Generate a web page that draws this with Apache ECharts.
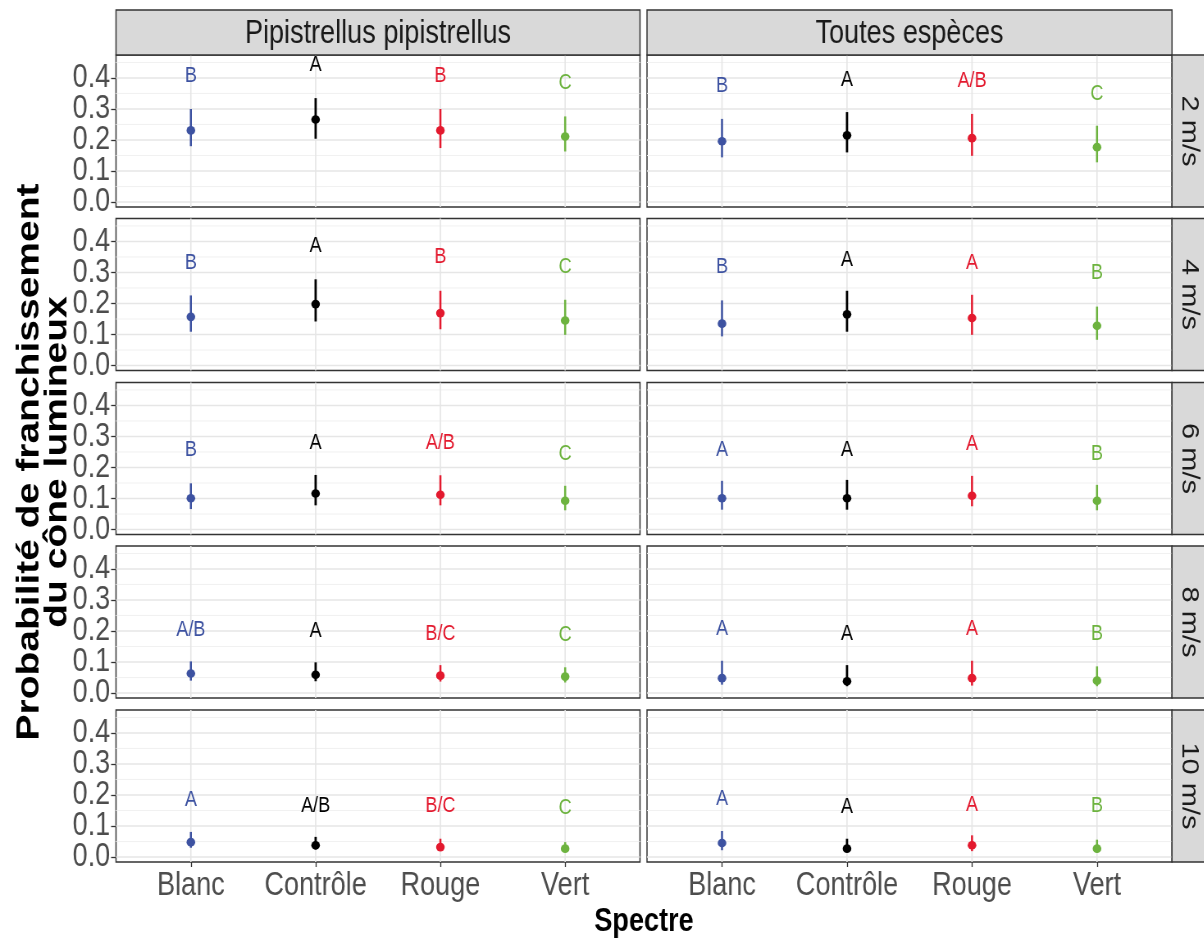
<!DOCTYPE html>
<html>
<head>
<meta charset="utf-8">
<script src="https://cdn.jsdelivr.net/npm/echarts@6/dist/echarts.min.js"></script>
<style>
html,body{margin:0;padding:0;background:#fff;overflow:hidden;}
#wrap{width:1204px;height:940px;overflow:hidden;position:relative;}
#chart{width:1468px;height:940px;transform:scaleX(0.82);transform-origin:0 0;position:absolute;left:0;top:0;}
</style>
</head>
<body>
<div id="wrap"><div id="chart"></div></div>
<script>
// ---------- data ----------
const categories = ['Blanc', 'Contrôle', 'Rouge', 'Vert'];
const speeds = ['2 m/s', '4 m/s', '6 m/s', '8 m/s', '10 m/s'];
const groups = ['Pipistrellus pipistrellus', 'Toutes espèces'];
const yTicksEven = [0, 0.2, 0.4];
const yTicksOdd = [0.1, 0.3];
const yMajorGrid = [0, 0.1, 0.2, 0.3, 0.4];
const yMinorGrid = [0.05, 0.15, 0.25, 0.35, 0.45];

// Pipistrellus pipistrellus (rows = speeds, cols = categories)
const pipiEstimate = [
  [0.231, 0.266, 0.231, 0.211],
  [0.157, 0.198, 0.169, 0.145],
  [0.101, 0.116, 0.112, 0.093],
  [0.063, 0.059, 0.056, 0.053],
  [0.048, 0.038, 0.032, 0.027]
];
const pipiLower = [
  [0.180, 0.204, 0.174, 0.163],
  [0.109, 0.142, 0.117, 0.099],
  [0.066, 0.078, 0.078, 0.062],
  [0.040, 0.038, 0.037, 0.034],
  [0.030, 0.024, 0.022, 0.016]
];
const pipiUpper = [
  [0.300, 0.335, 0.300, 0.276],
  [0.226, 0.278, 0.241, 0.212],
  [0.149, 0.176, 0.175, 0.141],
  [0.102, 0.099, 0.090, 0.083],
  [0.081, 0.065, 0.059, 0.048]
];
const pipiLetters = [
  ['B', 'A', 'B', 'C'],
  ['B', 'A', 'B', 'C'],
  ['B', 'A', 'A/B', 'C'],
  ['A/B', 'A', 'B/C', 'C'],
  ['A', 'A/B', 'B/C', 'C']
];
const pipiLetterY = [
  [0.405, 0.443, 0.405, 0.384],
  [0.330, 0.384, 0.349, 0.319],
  [0.256, 0.279, 0.279, 0.245],
  [0.203, 0.201, 0.192, 0.188],
  [0.183, 0.165, 0.165, 0.159]
];

// Toutes espèces
const toutesEstimate = [
  [0.196, 0.215, 0.206, 0.177],
  [0.135, 0.165, 0.153, 0.128],
  [0.101, 0.101, 0.109, 0.093],
  [0.048, 0.038, 0.048, 0.040],
  [0.045, 0.027, 0.038, 0.027]
];
const toutesLower = [
  [0.144, 0.160, 0.149, 0.128],
  [0.094, 0.109, 0.099, 0.083],
  [0.064, 0.064, 0.075, 0.062],
  [0.027, 0.022, 0.024, 0.022],
  [0.022, 0.016, 0.019, 0.014]
];
const toutesUpper = [
  [0.268, 0.290, 0.284, 0.246],
  [0.210, 0.241, 0.228, 0.190],
  [0.157, 0.160, 0.173, 0.144],
  [0.104, 0.090, 0.104, 0.086],
  [0.084, 0.059, 0.070, 0.056]
];
const toutesLetters = [
  ['B', 'A', 'A/B', 'C'],
  ['B', 'A', 'A', 'B'],
  ['A', 'A', 'A', 'B'],
  ['A', 'A', 'A', 'B'],
  ['A', 'A', 'A', 'B']
];
const toutesLetterY = [
  [0.373, 0.395, 0.389, 0.349],
  [0.317, 0.341, 0.332, 0.298],
  [0.256, 0.258, 0.275, 0.245],
  [0.206, 0.192, 0.206, 0.190],
  [0.188, 0.161, 0.169, 0.166]
];

// ---------- styling / layout (chart drawn 1/0.82 wide, then squeezed horizontally) ----------
const SX = 0.82;
const colors = ['#3D52A1', '#000000', '#E3192E', '#6DB33F'];
const SANS = "'Liberation Sans', Arial, sans-serif";
const colLeft = [116 / SX, 647 / SX];
const colWidth = [524 / SX, 525 / SX];
const rowTop = [55, 218.5, 382.5, 546, 710];
const rowH = 152;
const Y_MIN = -0.016, Y_MAX = 0.474, X_MIN = -0.6, X_MAX = 3.6;

const panels = [
  { est: pipiEstimate, lo: pipiLower, up: pipiUpper, let: pipiLetters, ly: pipiLetterY },
  { est: toutesEstimate, lo: toutesLower, up: toutesUpper, let: toutesLetters, ly: toutesLetterY }
];

const option = {
  animation: false,
  backgroundColor: '#ffffff',
  grid: [], xAxis: [], yAxis: [], series: [], graphic: []
};

function makeYAxis(gridIndex, show, values) {
  return {
    gridIndex: gridIndex, type: 'value', min: Y_MIN, max: Y_MAX, position: 'left',
    axisLine: { show: false, onZero: false }, splitLine: { show: false },
    axisTick: { show: show, customValues: values, length: 6, lineStyle: { color: '#333333', width: 1.3 } },
    axisLabel: {
      show: show, customValues: values, hideOverlap: false,
      formatter: v => v.toFixed(1),
      fontFamily: SANS, fontSize: 33, color: '#4D4D4D', margin: 7
    }
  };
}

for (let r = 0; r < speeds.length; r++) {
  for (let c = 0; c < groups.length; c++) {
    const idx = option.grid.length;
    const P = panels[c];
    const bottomRow = r === speeds.length - 1;
    option.grid.push({
      left: colLeft[c], top: rowTop[r], width: colWidth[c], height: rowH,
      show: true, backgroundColor: '#ffffff', borderColor: '#333333', borderWidth: 1.5
    });
    option.xAxis.push({
      gridIndex: idx, type: 'value', min: X_MIN, max: X_MAX, position: 'bottom',
      axisLine: { show: false, onZero: false }, splitLine: { show: false },
      axisTick: { show: bottomRow, customValues: [0, 1, 2, 3], length: 5, lineStyle: { color: '#333333', width: 1.3 } },
      axisLabel: {
        show: bottomRow, customValues: [0, 1, 2, 3], hideOverlap: false,
        formatter: v => categories[Math.round(v)] || '',
        fontFamily: SANS, fontSize: 33, color: '#4D4D4D', margin: 7
      }
    });
    const yIdx = option.yAxis.length;
    option.yAxis.push(makeYAxis(idx, c === 0, yTicksEven));
    option.yAxis.push(makeYAxis(idx, c === 0, yTicksOdd));

    // grid lines (drawn through the axis scales)
    const gridData = [];
    yMajorGrid.forEach(v => gridData.push([0, v, 1]));
    yMinorGrid.forEach(v => gridData.push([0, v, 0]));
    [0, 1, 2, 3].forEach(v => gridData.push([v, 0, 2]));
    option.series.push({
      type: 'custom', xAxisIndex: idx, yAxisIndex: yIdx, z: 1, silent: true,
      data: gridData,
      renderItem: (params, api) => {
        const kind = api.value(2);
        let p1, p2;
        if (kind === 2) {
          p1 = api.coord([api.value(0), Y_MIN]);
          p2 = api.coord([api.value(0), Y_MAX]);
        } else {
          p1 = api.coord([X_MIN, api.value(1)]);
          p2 = api.coord([X_MAX, api.value(1)]);
        }
        return {
          type: 'line',
          shape: { x1: p1[0], y1: p1[1], x2: p2[0], y2: p2[1] },
          style: { stroke: kind === 0 ? '#F1F1F1' : '#E6E6E6', lineWidth: kind === 0 ? 1 : 1.6 }
        };
      }
    });

    // error bars
    option.series.push({
      type: 'custom', xAxisIndex: idx, yAxisIndex: yIdx, z: 3,
      data: categories.map((_, i) => [i, P.lo[r][i], P.up[r][i]]),
      encode: { x: 0, y: [1, 2] },
      renderItem: (params, api) => {
        const i = params.dataIndex;
        const a = api.coord([api.value(0), api.value(1)]);
        const b = api.coord([api.value(0), api.value(2)]);
        return {
          type: 'line',
          shape: { x1: a[0], y1: a[1], x2: b[0], y2: b[1] },
          style: { stroke: colors[i], lineWidth: i === 1 ? 2.8 : 2.5 }
        };
      }
    });

    // points
    option.series.push({
      type: 'scatter', xAxisIndex: idx, yAxisIndex: yIdx, z: 4,
      symbol: 'circle', symbolSize: [10.5, 8.6],
      data: categories.map((_, i) => [i, P.est[r][i]]),
      itemStyle: { color: p => colors[p.dataIndex], opacity: 1 }
    });

    // significance letters
    option.series.push({
      type: 'custom', xAxisIndex: idx, yAxisIndex: yIdx, z: 5,
      data: categories.map((_, i) => [i, P.ly[r][i]]),
      renderItem: (params, api) => {
        const i = params.dataIndex;
        const p = api.coord([api.value(0), api.value(1)]);
        return {
          type: 'text', x: p[0], y: p[1],
          style: {
            text: P.let[r][i], fill: colors[i],
            font: '22px ' + SANS, align: 'center', verticalAlign: 'middle'
          }
        };
      }
    });
  }
}

// top strips
groups.forEach((g, c) => {
  option.graphic.push({
    type: 'rect', z: 10,
    shape: { x: colLeft[c], y: 10, width: colWidth[c], height: 45 },
    style: { fill: '#D9D9D9', stroke: '#333333', lineWidth: 1.5 }
  });
  option.graphic.push({
    type: 'text', z: 11, x: colLeft[c] + colWidth[c] / 2, y: 34,
    style: { text: g, fill: '#1A1A1A', font: '33px ' + SANS, align: 'center', verticalAlign: 'middle' }
  });
});

// right strips
speeds.forEach((s, r) => {
  const x0 = colLeft[1] + colWidth[1];
  option.graphic.push({
    type: 'rect', z: 10,
    shape: { x: x0, y: rowTop[r], width: 60, height: rowH },
    style: { fill: '#D9D9D9', stroke: '#333333', lineWidth: 1.5 }
  });
  option.graphic.push({
    type: 'text', z: 11, x: 1189 / SX, y: rowTop[r] + rowH / 2, rotation: -Math.PI / 2,
    style: { text: s, fill: '#1A1A1A', font: '29px ' + SANS, align: 'center', verticalAlign: 'middle' }
  });
});

// axis titles
option.graphic.push({
  type: 'text', z: 11, x: 44 / SX, y: 462, rotation: Math.PI / 2,
  style: {
    text: 'Probabilité de franchissement\ndu cône lumineux', fill: '#000000',
    font: 'bold 39px ' + SANS, align: 'center', verticalAlign: 'middle', lineHeight: 34
  }
});
option.graphic.push({
  type: 'text', z: 11, x: 644 / SX, y: 922,
  style: { text: 'Spectre', fill: '#000000', font: 'bold 33px ' + SANS, align: 'center', verticalAlign: 'middle' }
});

const chart = echarts.init(document.getElementById('chart'), null, { renderer: 'canvas' });
chart.setOption(option);
</script>
</body>
</html>
